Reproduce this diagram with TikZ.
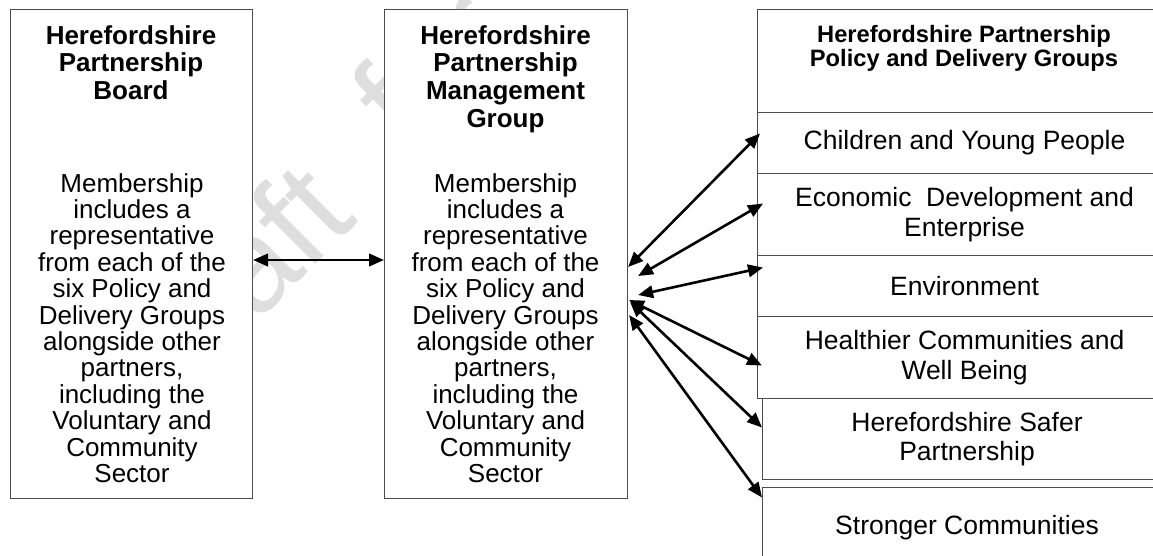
\documentclass[tikz,border=0pt]{standalone}
\usepackage{fontspec}
\setmainfont{Liberation Sans}
\usetikzlibrary{arrows.meta,calc}
\begin{document}
\begin{tikzpicture}[x=1pt,y=-1pt,
  box/.style={draw=black!70,line width=1.1pt,fill=white,inner sep=0pt},
  hd/.style={font=\bfseries\fontsize{26}{27.8}\selectfont,align=center,inner sep=0pt},
  bd/.style={font=\fontsize{26}{26.4}\selectfont,align=center,inner sep=0pt},
  rt/.style={font=\fontsize{26.5}{29.5}\selectfont,align=center},
  rh/.style={font=\bfseries\fontsize{23.7}{24.5}\selectfont,align=center,inner sep=0pt},
  wmk/.style={font=\fontsize{132}{132}\selectfont, text=black!13, rotate=45, inner sep=0pt},
  link/.style={line width=2.6pt,{Triangle[length=15pt,width=12.5pt]}-{Triangle[length=15pt,width=12.5pt]}}]
\useasboundingbox (0,0) rectangle (1153,555);
\clip (0,0) rectangle (1153,555);
\fill[white] (0,0) rectangle (1153,555);
% watermark
\node[wmk, anchor=base east] (wm1) at (360,220) {Draft};
\node[wmk, anchor=base west] (wm2) at (408,152) {for};
% left box
\node[box, minimum width=242pt, minimum height=489pt, anchor=north west] (board) at (10,9) {};
\node[hd, anchor=north] (boardh) at (131,25) {Herefordshire\\Partnership\\Board};
\node[bd, anchor=north] (boardb) at (132,173) {Membership\\includes a\\representative\\from each of the\\six Policy and\\Delivery Groups\\alongside other\\partners,\\including the\\Voluntary and\\Community\\Sector};
% middle box
\node[box, minimum width=243pt, minimum height=489pt, anchor=north west] (mg) at (384,9) {};
\node[hd, anchor=north] (mgh) at (505.5,25) {Herefordshire\\Partnership\\Management\\Group};
\node[bd, anchor=north] (mgb) at (505.5,173) {Membership\\includes a\\representative\\from each of the\\six Policy and\\Delivery Groups\\alongside other\\partners,\\including the\\Voluntary and\\Community\\Sector};
% right column
\node[box, minimum width=414pt, minimum height=103pt, anchor=north west] (pdg) at (757,9) {};
\node[rh, anchor=north] (pdgh) at (964,25) {Herefordshire Partnership\\Policy and Delivery Groups};
\node[box, rt, minimum width=414pt, minimum height=61pt, anchor=north west] (cyp) at (757,112) {Children and Young People};
\node[box, rt, minimum width=414pt, minimum height=82pt, anchor=north west] (ede) at (757,173) {Economic\ \ Development and\\Enterprise};
\node[box, rt, minimum width=414pt, minimum height=61pt, anchor=north west] (env) at (757,255) {Environment};
\node[box, rt, minimum width=414pt, minimum height=82pt, anchor=north west] (hcw) at (757,316) {Healthier Communities and\\Well Being};
\node[box, rt, minimum width=409pt, minimum height=81pt, anchor=north west] (hsp) at (762,398) {Herefordshire Safer\\Partnership};
\node[box, rt, minimum width=409pt, minimum height=80pt, anchor=north west] (stc) at (762,487) {Stronger Communities};
% connectors
\draw[link] ($(board.north east)+(0,251)$) -- ($(mg.north west)+(0,251)$);
\draw[link] ($(mg.north east)+(0,258)$) -- ($(cyp.west)+(3,-9.5)$);
\draw[link] ($(mg.north east)+(10,267)$) -- ($(ede.west)+(6,-11)$);
\draw[link] ($(mg.north east)+(10,286)$) -- ($(env.west)+(6,-18.5)$);
\draw[link] ($(mg.north east)+(1,291)$) -- ($(hcw.west)+(5,8)$);
\draw[link] ($(mg.north east)+(2,293)$) -- ($(hsp.west)+(0,-11.5)$);
\draw[link] ($(mg.north east)+(1,306)$) -- ($(stc.west)+(0,-30)$);
\end{tikzpicture}
\end{document}
